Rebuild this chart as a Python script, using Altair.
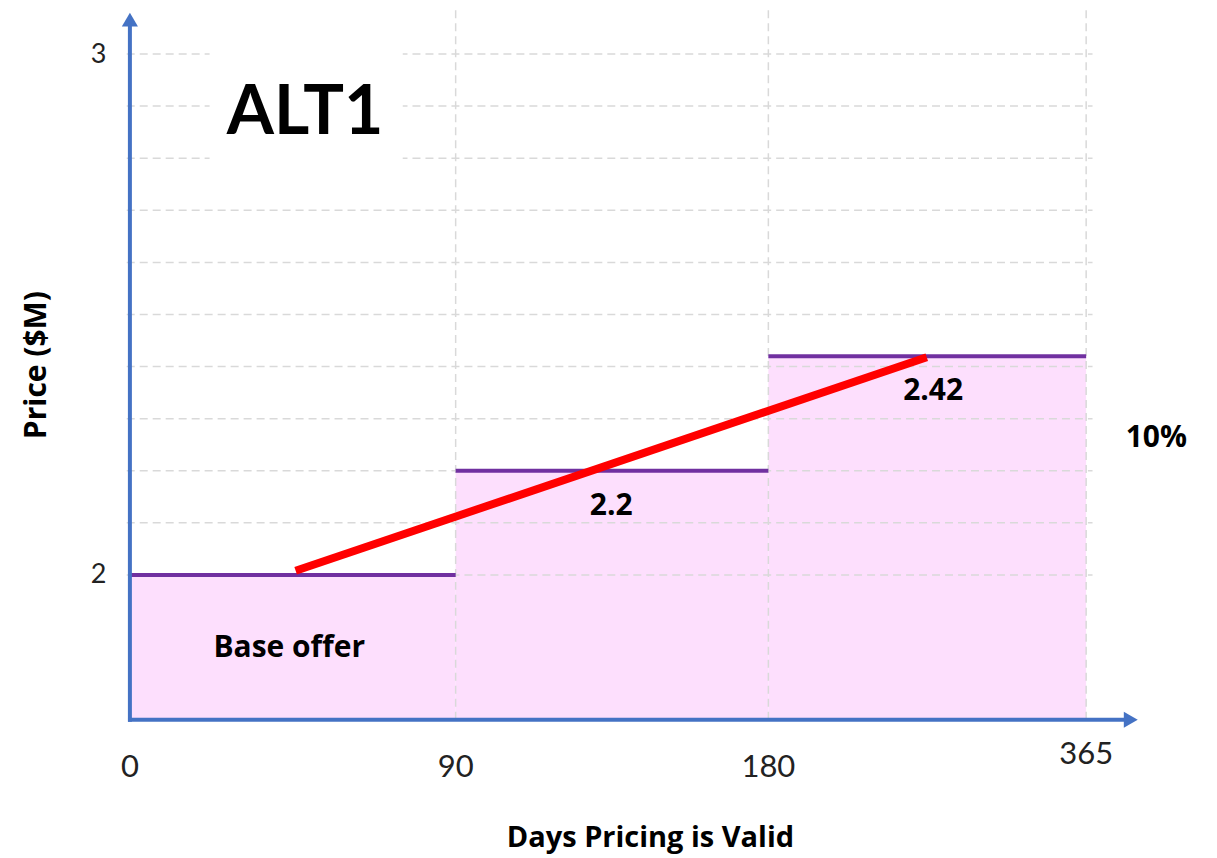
import altair as alt
import pandas as pd

# ---- data ----
day_labels = ["0", "90", "180", "365"]
day_pos = [0, 1.022, 2.003, 3.0]
day_label_y = [1.63, 1.63, 1.63, 1.655]

seg_start = [0, 1.022, 2.003]
seg_end = [1.022, 2.003, 3.0]
prices = [2.0, 2.2, 2.42]

trend_x = [0.52, 2.5]
trend_y = [2.008, 2.418]

note_text = ["Base offer", "2.2", "2.42", "10%"]
note_x = [0.5, 1.51, 2.52, 3.22]
note_y = [1.86, 2.132, 2.354, 2.262]

grid_y = [2.0, 2.1, 2.2, 2.3, 2.4, 2.5, 2.6, 2.7, 2.8, 2.9, 3.0]
grid_x = [1.022, 2.003, 3.0]

X_MIN, X_MAX = 0, 3.166
Y_MIN, Y_MAX = 1.722, 3.08

W, H = 1010, 708
FONT = "Open Sans"
BLUE = "#4472C4"

xs = alt.Scale(domain=[X_MIN, X_MAX], nice=False, zero=False)
ys = alt.Scale(domain=[Y_MIN, Y_MAX], nice=False, zero=False)

seg_df = pd.DataFrame({"x0": seg_start, "x1": seg_end, "price": prices})
trend_df = pd.DataFrame({"x": trend_x, "y": trend_y})
note_df = pd.DataFrame({"t": note_text, "x": note_x, "y": note_y})
days_df = pd.DataFrame({"t": day_labels, "x": day_pos, "y": day_label_y})
hgrid_df = pd.DataFrame({"y": grid_y})
vgrid_df = pd.DataFrame({"x": grid_x})

rects = alt.Chart(seg_df).mark_rect(color="#FDDFFD").encode(
    x=alt.X("x0:Q", scale=xs, axis=None),
    x2="x1:Q",
    y=alt.Y("price:Q", scale=ys, axis=alt.Axis(
        values=[2, 3], format="d", title=None, domain=False, ticks=False, tickSize=0,
        grid=False, labelFont="Lato", labelFontSize=27, labelColor="#222222",
        labelPadding=24)),
    y2=alt.datum(Y_MIN),
)

hgrid = alt.Chart(hgrid_df).mark_rule(
    color="#D9D9D9", strokeWidth=1.5, strokeDash=[8, 5]
).encode(
    y=alt.Y("y:Q", scale=ys),
    x=alt.datum(-0.01), x2=alt.datum(3.02),
)

vgrid = alt.Chart(vgrid_df).mark_rule(
    color="#D9D9D9", strokeWidth=1.5, strokeDash=[8, 5]
).encode(
    x=alt.X("x:Q", scale=xs),
    y=alt.datum(Y_MIN), y2=alt.datum(Y_MAX + 0.005),
)

white_box = alt.Chart(pd.DataFrame({"a": [0.25], "b": [0.856], "c": [2.75], "d": [3.03]})).mark_rect(
    color="white"
).encode(x=alt.X("a:Q", scale=xs), x2="b:Q", y=alt.Y("c:Q", scale=ys), y2="d:Q")

steps = alt.Chart(seg_df).mark_rule(color="#7030A0", strokeWidth=4).encode(
    x=alt.X("x0:Q", scale=xs), x2="x1:Q", y=alt.Y("price:Q", scale=ys)
)

trend = alt.Chart(trend_df).mark_line(color="#FF0000", strokeWidth=8).encode(
    x=alt.X("x:Q", scale=xs), y=alt.Y("y:Q", scale=ys)
)

notes = alt.Chart(note_df).mark_text(
    font=FONT, fontSize=30, fontWeight="bold", color="#000000"
).encode(x=alt.X("x:Q", scale=xs), y=alt.Y("y:Q", scale=ys), text="t:N")

days = alt.Chart(days_df).mark_text(
    font="Lato", fontSize=31, color="#222222"
).encode(x=alt.X("x:Q", scale=xs), y=alt.Y("y:Q", scale=ys), text="t:N")

title_alt = alt.Chart(pd.DataFrame({"t": ["ALT1"]})).mark_text(
    font="Lato", fontSize=68, fontWeight="bold", color="#000000", align="left", baseline="alphabetic"
).encode(x=alt.value(97), y=alt.value(122), text="t:N")

ytitle = alt.Chart(pd.DataFrame({"t": ["Price ($M)"]})).mark_text(
    font=FONT, fontSize=30, fontWeight="bold", color="#000000", angle=270
).encode(x=alt.value(-93), y=alt.value(353), text="t:N")

xtitle = alt.Chart(pd.DataFrame({"t": ["Days Pricing is Valid"]})).mark_text(
    font=FONT, fontSize=29, fontWeight="bold", color="#000000"
).encode(x=alt.value(521), y=alt.value(826), text="t:N")

yaxis_line = alt.Chart(pd.DataFrame({"x": [0]})).mark_rule(color=BLUE, strokeWidth=4).encode(
    x=alt.X("x:Q", scale=xs), y=alt.datum(Y_MIN - 0.004), y2=alt.datum(3.06)
)
xaxis_line = alt.Chart(pd.DataFrame({"y": [Y_MIN]})).mark_rule(color=BLUE, strokeWidth=4).encode(
    y=alt.Y("y:Q", scale=ys), x=alt.datum(-0.006), x2=alt.datum(3.13)
)
arrow_up = alt.Chart(pd.DataFrame({"x": [0], "y": [3.066]})).mark_point(
    shape="triangle-up", filled=True, color=BLUE, size=260, opacity=1
).encode(x=alt.X("x:Q", scale=xs), y=alt.Y("y:Q", scale=ys))
arrow_right = alt.Chart(pd.DataFrame({"x": [3.14], "y": [Y_MIN]})).mark_point(
    shape="triangle-right", filled=True, color=BLUE, size=260, opacity=1
).encode(x=alt.X("x:Q", scale=xs), y=alt.Y("y:Q", scale=ys))

chart = alt.layer(
    rects, hgrid, vgrid, white_box, steps, trend, notes, days,
    title_alt, ytitle, xtitle, yaxis_line, xaxis_line, arrow_up, arrow_right
).properties(
    width=W, height=H,
    autosize=alt.AutoSizeParams(type="none"),
    padding={"left": 122, "top": 4, "right": 70, "bottom": 138},
).configure_view(stroke=None)

chart.save("out.html", embed_options={"renderer": "svg", "actions": False})
